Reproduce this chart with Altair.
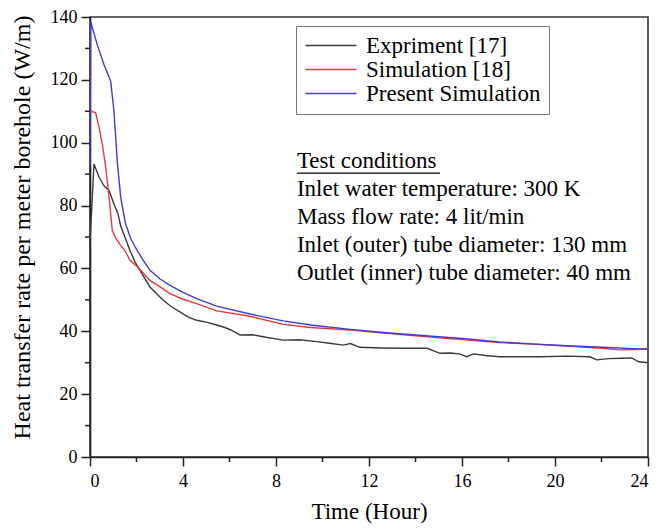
import altair as alt
import pandas as pd

# ---- data ----
series_names = ["Expriment [17]", "Simulation [18]", "Present Simulation"]
series_colors = ["#3a3a3a", "#e8383c", "#3c3cdc"]

exp_t = [0, 0.17, 0.39, 0.6, 0.82, 1.03, 1.2, 1.32, 1.5, 1.72, 1.94, 2.15, 2.58, 3.15, 3.5,
         3.87, 4.2, 4.59, 5.0, 5.45, 5.8, 6.1, 6.45, 7.0, 7.5, 8.3, 9.0, 9.75, 10.3, 10.9,
         11.2, 11.6, 12.5, 13.5, 14.5, 15.05, 15.5, 15.9, 16.2, 16.5, 17.0, 17.6, 18.5,
         19.35, 20.5, 21.5, 21.8, 22.3, 22.9, 23.3, 23.6, 24]
exp_v = [68, 93.2, 89, 86.3, 84.8, 80.5, 77.5, 73.5, 70, 65.7, 62, 59.4, 54.1, 49.9, 47.8,
         46.2, 44.6, 43.5, 42.9, 42, 41.2, 40.3, 38.8, 38.9, 38.2, 37.2, 37.3, 36.7, 36.2, 35.6,
         36.1, 34.9, 34.7, 34.6, 34.6, 33.0, 33.1, 32.8, 31.9, 32.8, 32.3, 31.9, 31.9,
         31.9, 32.1, 31.9, 30.9, 31.3, 31.4, 31.5, 30.3, 30.0]

sim_t = [0, 0.03, 0.24, 0.39, 0.53, 0.68, 0.82, 0.96, 1.08, 1.3, 1.5, 1.72, 2.08, 2.58, 3.0,
         3.44, 4.0, 4.59, 5.45, 6.88, 8.3, 9.5, 11.2, 12.5, 14, 15, 16, 17.6, 19, 20.5, 22,
         22.8, 23.5, 24]
sim_v = [110, 110, 109.6, 104.8, 99.5, 92.1, 82.6, 72, 70, 67.5, 65.7, 62.6, 60.2, 56.2, 54.2,
         52, 50.2, 48.8, 46.5, 44.8, 42.2, 41.2, 40.4, 39.5, 38.6, 37.9, 37.4, 36.4, 35.9, 35.3,
         34.6, 34.1, 34.2, 34.5]

pres_t = [0, 0.03, 0.31, 0.6, 0.89, 1.03, 1.17, 1.32, 1.53, 1.75, 2.03, 2.3, 2.58, 3.0, 3.44,
          4.0, 4.59, 5.45, 6.88, 8.3, 9.5, 11.2, 12.5, 14, 16, 17.6, 19, 20.5, 22, 23.6, 24]
pres_v = [93, 138.5, 131.2, 124.9, 119.6, 110.1, 94.3, 82.6, 74.2, 69.5, 65.7, 62.5, 59.4,
          56.7, 54.6, 52.4, 50.4, 48, 45.5, 43.3, 42.0, 40.6, 39.7, 38.8, 37.7, 36.6, 36.0,
          35.4, 34.9, 34.4, 34.3]

x_ticks = [0, 4, 8, 12, 16, 20, 24]
y_ticks = [0, 20, 40, 60, 80, 100, 120, 140]
x_minor = [2, 6, 10, 14, 18, 22]
y_minor = [10, 30, 50, 70, 90, 110, 130]

cond_lines = ["Test conditions",
              "Inlet water temperature: 300 K",
              "Mass flow rate: 4 lit/min",
              "Inlet (outer) tube diameter: 130 mm",
              "Outlet (inner) tube diameter: 40 mm"]
cond_v = [94.2, 85.3, 76.4, 67.5, 58.6]
cond_t = 8.9
underline_t = [8.9, 15.05]
underline_v = 90.3

# ---- tables ----
rows = []
for name, ts, vs in zip(series_names, [exp_t, sim_t, pres_t], [exp_v, sim_v, pres_v]):
    for i, (t, v) in enumerate(zip(ts, vs)):
        rows.append({"t": t, "v": v, "series": name, "i": i})
df = pd.DataFrame(rows)

FONT = "Liberation Serif"
x_scale = alt.Scale(domain=[0, 24], nice=False, zero=False)
y_scale = alt.Scale(domain=[0, 140], nice=False)
x_axis = alt.Axis(values=x_ticks, title="Time (Hour)", titlePadding=10, labelPadding=6,
                  format="d")
y_axis = alt.Axis(values=y_ticks, title="Heat transfer rate per meter borehole (W/m)",
                  titlePadding=16, titleY=210, titleFontSize=24, format="d")

X = alt.X("t:Q", scale=x_scale, axis=x_axis)
Y = alt.Y("v:Q", scale=y_scale, axis=y_axis)

lines = alt.Chart(df).mark_line(strokeWidth=1.4).encode(
    x=X, y=Y,
    color=alt.Color("series:N",
                    scale=alt.Scale(domain=series_names, range=series_colors),
                    sort=series_names,
                    legend=alt.Legend(title=None, orient="none", legendX=206, legendY=9,
                                      symbolType="M-1,0H4.1", symbolSize=400,
                                      symbolStrokeWidth=1.5, labelFont=FONT,
                                      labelFontSize=23, labelColor="black",
                                      labelOffset=39, labelLimit=400,
                                      padding=8, rowPadding=-2.5,
                                      strokeColor="#777", fillColor="white")),
    detail="series:N",
    order="i:Q",
)

ymin_df = pd.DataFrame({"v": y_minor})
ymin = alt.Chart(ymin_df).mark_rule(color="#222", strokeWidth=1.5).encode(
    y=Y, x=alt.value(-5), x2=alt.value(0))

xmin_df = pd.DataFrame({"t": x_minor})
xmin = alt.Chart(xmin_df).mark_rule(color="#222", strokeWidth=1.5).encode(
    x=X, y=alt.value(440), y2=alt.value(445))

cond_df = pd.DataFrame({"t": [cond_t] * len(cond_lines), "v": cond_v, "label": cond_lines})
cond = alt.Chart(cond_df).mark_text(align="left", baseline="middle", font=FONT,
                                    fontSize=23, color="black").encode(
    x=X, y=Y, text="label:N")

ul_df = pd.DataFrame({"t": [underline_t[0]], "t2": [underline_t[1]], "v": [underline_v]})
ul = alt.Chart(ul_df).mark_rule(color="black", strokeWidth=1.2).encode(
    x=X, x2="t2:Q", y=Y)

chart = alt.layer(ymin, xmin, cond, ul, lines).properties(
    width=558, height=440,
    autosize="none",
    padding={"left": 82, "top": 9, "right": 3, "bottom": 66},
    background="white",
).configure_view(
    stroke="#333", strokeWidth=1.6
).configure_axis(
    grid=False,
    labelFont=FONT, titleFont=FONT,
    labelFontSize=18, titleFontSize=23, titleFontWeight="normal",
    labelColor="black", titleColor="black",
    domainColor="#222", tickColor="#222", domainWidth=1.6, tickWidth=1.5,
    tickSize=9, labelPadding=4,
)

chart.save("out.html", embed_options={"renderer": "svg", "actions": False})
